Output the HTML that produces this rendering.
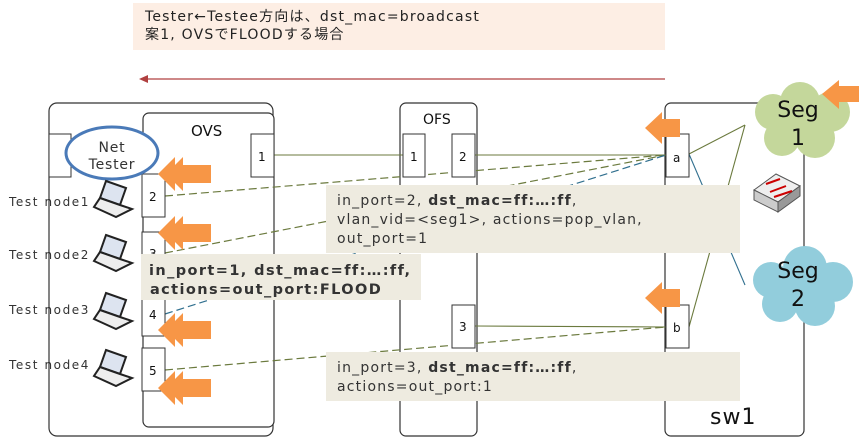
<!DOCTYPE html>
<html><head><meta charset="utf-8"><style>
body{margin:0;background:#fff}
svg{display:block;font-family:"DejaVu Sans","Liberation Sans","Noto Sans CJK JP",sans-serif}
</style></head><body>
<svg width="859" height="444" viewBox="0 0 859 444" xmlns="http://www.w3.org/2000/svg">
<defs>
<g id="dbl"><polygon points="0,0 17,-17 17,-9 25,-17 25,-9 53,-9 53,9 25,9 25,17 17,9 17,17" fill="#f79646"/></g>
<g id="sgl"><polygon points="0,0 17,-16 17,-9 35,-9 35,9 17,9 17,16" fill="#f79646"/></g>
<g id="lap">
<polygon points="12,0 32,7 26,24 6,17" fill="#dde4f0" stroke="#222" stroke-width="2"/>
<polygon points="6,17 26,24 38,28 22,36 0,26" fill="#eee" stroke="#222" stroke-width="2"/>
</g>
</defs>
<rect x="133" y="3" width="532" height="47" fill="#fdeee4"/>
<text x="145" y="21" font-size="14" letter-spacing="1.2" fill="#222">Tester←Testee方向は、dst_mac=broadcast</text>
<text x="145" y="39" font-size="14" letter-spacing="1.2" fill="#222">案1, OVSでFLOODする場合</text>
<line x1="665" y1="79" x2="146" y2="79" stroke="#b04040" stroke-width="1.3"/>
<polygon points="139,79 148,75 148,83" fill="#b04040"/>

<rect x="49" y="103" width="224" height="333" rx="8" fill="#fff" stroke="#333" stroke-width="1.2"/>
<rect x="143" y="113" width="131" height="314" rx="6" fill="#fff" stroke="#333" stroke-width="1.2"/>
<rect x="49" y="134" width="22" height="43" fill="#fff" stroke="#333"/>
<text x="191" y="136" font-size="15" fill="#111">OVS</text>
<rect x="400" y="103" width="77" height="333" rx="6" fill="#fff" stroke="#333" stroke-width="1.2"/>
<text x="423" y="124" font-size="14" fill="#111">OFS</text>
<rect x="665" y="103" width="139" height="333" rx="6" fill="#fff" stroke="#333" stroke-width="1.2"/>
<text x="710" y="424" font-size="22" letter-spacing="1" fill="#111">sw1</text>

<g stroke="#6b7a3e" stroke-width="1.1" fill="none">
<line x1="274" y1="155" x2="403" y2="155"/>
<line x1="475" y1="155" x2="666" y2="155"/>
<line x1="475" y1="326" x2="666" y2="327"/>
<line x1="689" y1="154" x2="745" y2="125"/>
<line x1="689" y1="327" x2="745" y2="125"/>
</g>
<line x1="689" y1="154" x2="745" y2="285" stroke="#31708f" stroke-width="1.1"/>
<g stroke="#6b7a3e" stroke-width="1.2" stroke-dasharray="8,4" fill="none">
<line x1="165" y1="196" x2="666" y2="155"/>
<line x1="165" y1="253" x2="666" y2="155"/>
<line x1="165" y1="370" x2="666" y2="327"/>
</g>
<line x1="165" y1="314" x2="666" y2="155" stroke="#31708f" stroke-width="1.2" stroke-dasharray="8,4"/>

<g fill="#fff" stroke="#333" stroke-width="1">
<rect x="251" y="134" width="23" height="43"/>
<rect x="142" y="174" width="23" height="43"/>
<rect x="142" y="232" width="23" height="43"/>
<rect x="142" y="293" width="23" height="43"/>
<rect x="142" y="348" width="23" height="43"/>
<rect x="403" y="134" width="22" height="43"/>
<rect x="452" y="134" width="23" height="43"/>
<rect x="452" y="305" width="23" height="43"/>
<rect x="666" y="134" width="23" height="43"/>
<rect x="666" y="305" width="23" height="43"/>
</g>
<g font-size="12" fill="#111">
<text x="258" y="161">1</text><text x="149" y="201">2</text><text x="149" y="258">3</text>
<text x="149" y="319">4</text><text x="149" y="375">5</text>
<text x="410" y="161">1</text><text x="459" y="161">2</text><text x="459" y="331">3</text>
<text x="673" y="162">a</text><text x="673" y="332">b</text>
</g>

<ellipse cx="112" cy="153" rx="46" ry="26" fill="#fff" stroke="#4a7ab8" stroke-width="3"/>
<text x="112" y="152" font-size="14" text-anchor="middle" letter-spacing="0.8" fill="#333">Net</text>
<text x="112" y="169" font-size="14" text-anchor="middle" letter-spacing="0.8" fill="#333">Tester</text>

<g font-size="12" letter-spacing="1.6" fill="#333">
<text x="9" y="206">Test node1</text><text x="9" y="259">Test node2</text>
<text x="9" y="314">Test node3</text><text x="9" y="369">Test node4</text>
</g>
<use href="#lap" x="94" y="181"/><use href="#lap" x="94" y="235"/>
<use href="#lap" x="94" y="293"/><use href="#lap" x="94" y="350"/>

<use href="#dbl" x="158" y="174"/><use href="#dbl" x="158" y="233"/>
<use href="#dbl" x="158" y="330"/><use href="#dbl" x="158" y="388"/>
<use href="#sgl" x="645" y="128"/><use href="#sgl" x="645" y="298"/>

<g fill="#c4d79b">
<circle cx="773" cy="112" r="18"/><circle cx="800" cy="102" r="20"/><circle cx="830" cy="112" r="20"/>
<circle cx="815" cy="138" r="20"/><circle cx="782" cy="138" r="18"/><circle cx="800" cy="122" r="24"/>
</g>
<text x="798" y="117" font-size="22" text-anchor="middle" fill="#111">Seg</text>
<text x="798" y="145" font-size="22" text-anchor="middle" fill="#111">1</text>
<g fill="#92cddc">
<circle cx="771" cy="280" r="18"/><circle cx="805" cy="268" r="22"/><circle cx="833" cy="282" r="20"/>
<circle cx="815" cy="306" r="20"/><circle cx="780" cy="304" r="18"/><circle cx="800" cy="288" r="25"/>
</g>
<text x="798" y="278" font-size="22" text-anchor="middle" fill="#111">Seg</text>
<text x="798" y="306" font-size="22" text-anchor="middle" fill="#111">2</text>
<polygon points="822,94 839,80 839,86 859,86 859,102 839,102 839,109" fill="#f79646"/>

<polygon points="754,190 776,174 800,186 778,202" fill="#eee" stroke="#555"/>
<polygon points="754,190 778,202 778,212 754,200" fill="#ccc" stroke="#555"/>
<polygon points="778,202 800,186 800,196 778,212" fill="#999" stroke="#555"/>
<g stroke="#c00" stroke-width="2"><line x1="766" y1="184" x2="780" y2="179"/><line x1="770" y1="192" x2="786" y2="186"/><line x1="774" y1="197" x2="792" y2="191"/></g>

<rect x="326" y="185" width="414" height="68" fill="#eeebe0"/>
<g font-size="14" letter-spacing="1.2" fill="#333">
<text x="337" y="205">in_port=2, <tspan font-weight="bold">dst_mac=ff:…:ff</tspan>,</text>
<text x="337" y="224">vlan_vid=&lt;seg1&gt;, actions=pop_vlan,</text>
<text x="337" y="243">out_port=1</text>
</g>
<rect x="141" y="254" width="280" height="46" fill="#eeebe0"/>
<g font-size="14.5" font-weight="bold" letter-spacing="1.4" fill="#333">
<text x="149" y="275">in_port=1,  dst_mac=ff:…:ff,</text>
<text x="150" y="294">actions=out_port:FLOOD</text>
</g>
<rect x="326" y="352" width="414" height="49" fill="#eeebe0"/>
<g font-size="14" letter-spacing="1.2" fill="#333">
<text x="337" y="372">in_port=3, <tspan font-weight="bold">dst_mac=ff:…:ff</tspan>,</text>
<text x="337" y="391">actions=out_port:1</text>
</g>
</svg>
</body></html>
